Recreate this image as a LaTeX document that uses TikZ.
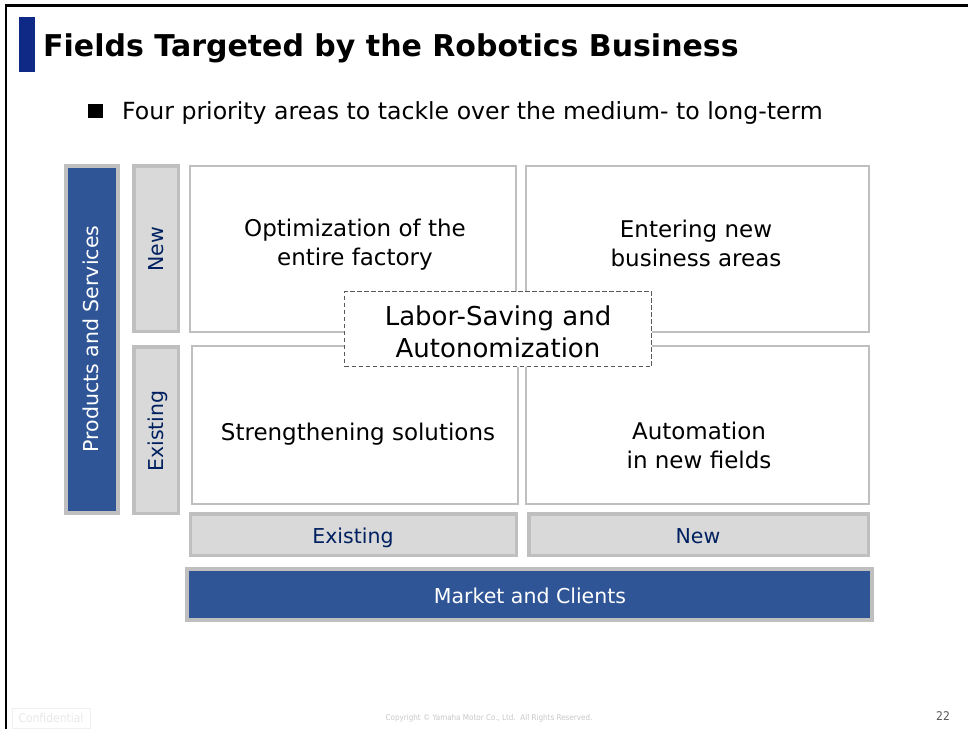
\documentclass[tikz,border=0pt]{standalone}
\usepackage{fontspec}
\setmainfont{DejaVu Sans}
\newfontfamily\condfont{DejaVu Sans Condensed}
\definecolor{bluefill}{HTML}{2F5597}
\definecolor{titlebar}{HTML}{0E2A86}
\definecolor{grayfill}{HTML}{D9D9D9}
\definecolor{grayline}{HTML}{BFBFBF}
\definecolor{navytext}{HTML}{002060}
\definecolor{dashline}{HTML}{595959}
\definecolor{foot}{HTML}{C8C8C8}
\tikzset{
  quad/.style={draw=grayline, line width=2pt, fill=white, inner sep=0pt},
  graybox/.style={draw=grayline, line width=3.5pt, fill=grayfill, inner sep=0pt},
  bluebox/.style={draw=grayline, line width=4pt, fill=bluefill, inner sep=0pt},
  centerbox/.style={draw=dashline, dash pattern=on 4.5pt off 2.5pt, line width=1.2pt, fill=white, inner sep=0pt},
  quadtext/.style={align=center, font=\fontsize{23}{29}\selectfont, text=black},
  lbltext/.style={font=\fontsize{20.5}{24}\selectfont, text=navytext, text height=15pt, text depth=4.5pt, inner sep=0pt},
  whitetext/.style={font=\fontsize{20.5}{24}\selectfont, text=white, text height=15pt, text depth=4.5pt, inner sep=0pt},
}
\begin{document}
\begin{tikzpicture}[x=1pt,y=-1pt]
\useasboundingbox (0,0) rectangle (968,729);
\fill[white] (0,0) rectangle (968,729);
% slide frame
\draw[line width=2.5pt, black] (6,729) -- (6,5.5) -- (968,5.5);
% title
\fill[titlebar] (19,17) rectangle (35,72);
\node[anchor=base west, inner sep=0pt, font=\fontsize{30}{35}\selectfont\bfseries] (title) at (43,56.5) {Fields Targeted by the Robotics Business};
\node[anchor=base west, inner sep=0pt, font=\fontsize{23.6}{28}\selectfont] (bullet) at (122,119) {Four priority areas to tackle over the medium- to long-term};
\fill[black] (88,104) rectangle (103,118);
% left labels
\node[bluebox, minimum width=52pt, minimum height=347pt] (ps) at (92,339.5) {};
\node[whitetext, rotate=90] (pstext) at (93,339) {Products and Services};
\node[graybox, minimum width=44.5pt, minimum height=165.5pt] (rnew) at (156,248.5) {};
\node[lbltext, rotate=90] (rnewtext) at (158,249) {New};
\node[graybox, minimum width=44.5pt, minimum height=166.5pt] (rexist) at (156,430) {};
\node[lbltext, rotate=90] (rexisttext) at (158.5,431) {Existing};
% quadrants
\node[quad, minimum width=326pt, minimum height=166pt] (tl) at (353,249) {};
\node[quad, minimum width=343pt, minimum height=166pt] (tr) at (697.5,249) {};
\node[quad, minimum width=326pt, minimum height=158pt] (bl) at (355,425) {};
\node[quad, minimum width=343pt, minimum height=158pt] (br) at (697.5,425) {};
\node[quadtext] (tltext) at (355,245) {Optimization of the\\entire factory};
\node[quadtext] (trtext) at (696,243) {Entering new\\business areas};
\node[quadtext] (bltext) at (358,434.5) {Strengthening solutions};
\node[quadtext] (brtext) at (699,445) {Automation\\in new fields};
% center
\node[centerbox, minimum width=307pt, minimum height=75pt] (center) at (498,329) {};
\node[align=center, font=\fontsize{26}{32}\selectfont] (centertext) at (498,332) {Labor-Saving and\\Autonomization};
% bottom labels
\node[graybox, minimum width=326pt, minimum height=41.5pt] (cexist) at (353.5,534.5) {};
\node[lbltext] (cexisttext) at (353,538.5) {Existing};
\node[graybox, minimum width=339.5pt, minimum height=41.5pt] (cnew) at (698.5,534.5) {};
\node[lbltext] (cnewtext) at (698,538.5) {New};
\node[bluebox, minimum width=685pt, minimum height=51pt] (market) at (529.5,594.5) {};
\node[whitetext] (markettext) at (530,598.5) {Market and Clients};
% footer
\node[draw=black!6, line width=0.8pt, minimum width=78pt, minimum height=20pt, inner sep=0pt, text=black!9, font=\condfont\fontsize{12}{14}\selectfont] (conf) at (51,718.5) {Confidential};
\node[text=foot, font=\condfont\fontsize{8}{10}\selectfont] (copy) at (489,718) {Copyright \textcopyright{} Yamaha Motor Co., Ltd.\ \ All Rights Reserved.};
\node[text=dashline, font=\condfont\fontsize{12}{14}\selectfont] (page) at (943,716) {22};
\end{tikzpicture}
\end{document}
